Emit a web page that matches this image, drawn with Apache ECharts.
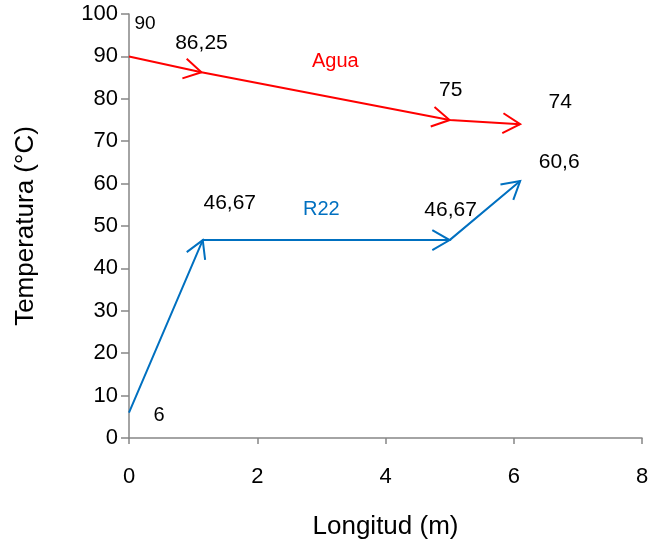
<!DOCTYPE html>
<html>
<head>
<meta charset="utf-8">
<script src="https://cdn.jsdelivr.net/npm/echarts@6/dist/echarts.min.js"></script>
<style>html,body{margin:0;padding:0;background:#fff}#c{width:659px;height:548px}</style>
</head>
<body>
<div id="c"></div>
<script>
// ---- data ----
const aguaX = [0, 1.13, 5.0, 6.1];
const aguaY = [90, 86.25, 75, 74];
const aguaLabels = ['90', '86,25', '75', '74'];
const r22X = [0, 1.15, 5.0, 6.1];
const r22Y = [6, 46.67, 46.67, 60.6];
const r22Labels = ['6', '46,67', '46,67', '60,6'];
const xTicks = [0, 2, 4, 6, 8];
const yTicks = [0, 10, 20, 30, 40, 50, 60, 70, 80, 90, 100];

// ---- styling ----
const RED = '#FF0000', BLUE = '#0070C0', AXIS = '#868686';
const FONT = '"Liberation Sans", Arial, sans-serif';
const aguaOffsets = [[16, -33], [0, -29], [1, -30], [40, -22]];
const r22Offsets = [[30, 3], [27, -37], [1, -30], [39, -19]];
const aguaSizes = [19, 21, 21, 21];
const r22Sizes = [20, 21, 21, 21];

function pts(xs, ys) { return xs.map((x, i) => [x, ys[i]]); }
function segs(xs, ys) {
  const out = [];
  for (let i = 1; i < xs.length; i++) out.push([xs[i - 1], ys[i - 1], xs[i], ys[i]]);
  return out;
}
function labelData(xs, ys, texts, offs, sizes) {
  return xs.map((x, i) => ({
    value: [x, ys[i]],
    label: { show: true, formatter: texts[i], position: 'inside', offset: offs[i],
             fontSize: sizes[i], color: '#000000', opacity: 1, fontFamily: FONT, textBorderWidth: 0 }
  }));
}
function arrowSeries(xs, ys, color) {
  return {
    type: 'custom',
    data: segs(xs, ys),
    silent: true,
    z: 5,
    renderItem: function (params, api) {
      const p0 = api.coord([api.value(0), api.value(1)]);
      const p1 = api.coord([api.value(2), api.value(3)]);
      const ang = Math.atan2(p1[1] - p0[1], p1[0] - p0[0]);
      const L = 20, h = Math.PI / 6;
      const a = [p1[0] - L * Math.cos(ang - h), p1[1] - L * Math.sin(ang - h)];
      const b = [p1[0] - L * Math.cos(ang + h), p1[1] - L * Math.sin(ang + h)];
      return {
        type: 'polyline',
        shape: { points: [a, p1, b] },
        style: { stroke: color, lineWidth: 2, fill: null }
      };
    }
  };
}

const chart = echarts.init(document.getElementById('c'), null, { renderer: 'canvas' });
chart.setOption({
  animation: false,
  textStyle: { fontFamily: FONT },
  grid: { left: 129, right: 17, top: 14, bottom: 110, containLabel: false },
  xAxis: {
    type: 'value', min: xTicks[0], max: xTicks[xTicks.length - 1], interval: xTicks[1] - xTicks[0],
    name: 'Longitud (m)', nameLocation: 'middle', nameGap: 76,
    nameTextStyle: { fontSize: 26, color: '#000', fontFamily: FONT },
    axisLine: { lineStyle: { color: AXIS, width: 1.5 } },
    axisTick: { show: true, inside: false, length: 6, lineStyle: { color: AXIS, width: 1.5 } },
    axisLabel: { fontSize: 22, color: '#000', margin: 28, fontFamily: FONT },
    splitLine: { show: false }
  },
  yAxis: {
    type: 'value', min: yTicks[0], max: yTicks[yTicks.length - 1], interval: yTicks[1] - yTicks[0],
    name: 'Temperatura (°C)', nameLocation: 'middle', nameGap: 90,
    nameTextStyle: { fontSize: 26, color: '#000', fontFamily: FONT },
    axisLine: { lineStyle: { color: AXIS, width: 1.5 } },
    axisTick: { show: true, inside: false, length: 8, lineStyle: { color: AXIS, width: 1.5 } },
    axisLabel: { fontSize: 22, color: '#000', margin: 11, fontFamily: FONT },
    splitLine: { show: false }
  },
  series: [
    { name: 'Agua', type: 'line', data: pts(aguaX, aguaY), symbol: 'none', lineStyle: { color: RED, width: 2 }, z: 4 },
    { name: 'R22', type: 'line', data: pts(r22X, r22Y), symbol: 'none', lineStyle: { color: BLUE, width: 2 }, z: 4 },
    arrowSeries(aguaX, aguaY, RED),
    arrowSeries(r22X, r22Y, BLUE),
    { type: 'scatter', symbolSize: 0, itemStyle: { color: '#000' }, silent: true, z: 6,
      data: labelData(aguaX, aguaY, aguaLabels, aguaOffsets, aguaSizes) },
    { type: 'scatter', symbolSize: 0, itemStyle: { color: '#000' }, silent: true, z: 6,
      data: labelData(r22X, r22Y, r22Labels, r22Offsets, r22Sizes) }
  ],
  graphic: [
    { type: 'text', left: 312, top: 51, style: { text: 'Agua', fill: RED, fontSize: 20, fontFamily: FONT } },
    { type: 'text', left: 303, top: 199, style: { text: 'R22', fill: BLUE, fontSize: 20, fontFamily: FONT } }
  ]
});
</script>
</body>
</html>
